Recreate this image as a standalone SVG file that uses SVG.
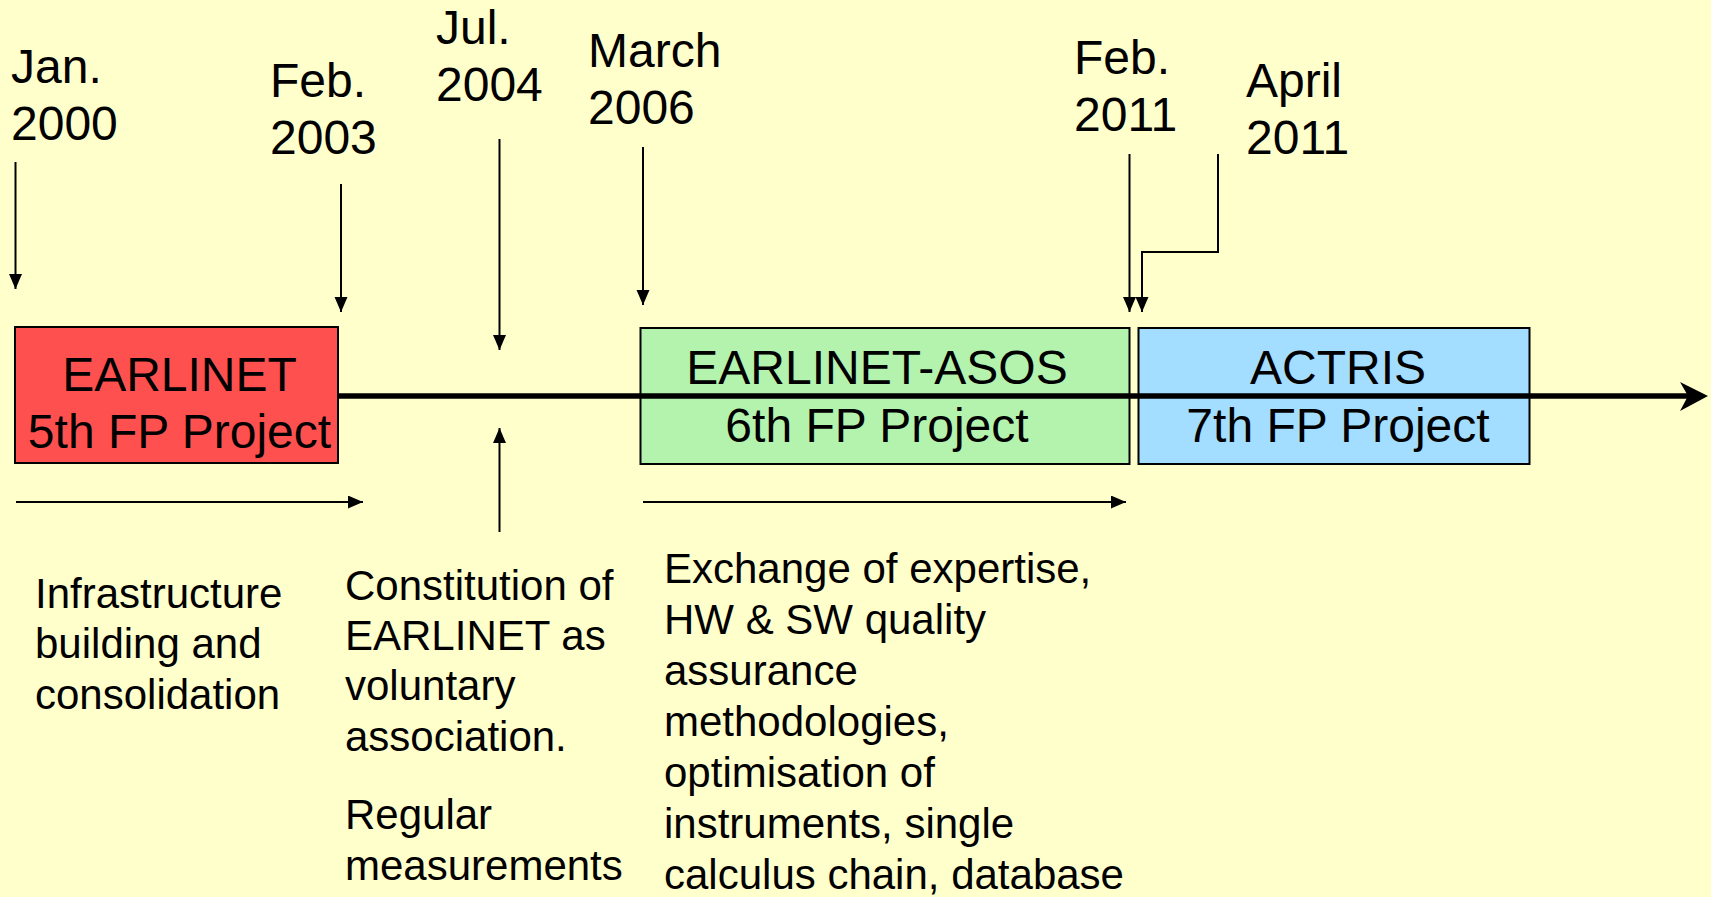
<svg xmlns="http://www.w3.org/2000/svg" width="1711" height="897" viewBox="0 0 1711 897">
<defs>
<style>
text{font-family:"Liberation Sans",Arial,sans-serif;fill:#000}
.date{font-size:48px}
.box{font-size:48px;text-anchor:middle}
.desc{font-size:42px}
.arr{stroke:#000;stroke-width:2;fill:none}
.bx{stroke:#000;stroke-width:2}
</style>
<marker id="ah" markerUnits="userSpaceOnUse" markerWidth="16" markerHeight="14" refX="15" refY="6.5" orient="auto">
<path d="M0,0 L15,6.5 L0,13 z" fill="#000"/>
</marker>
</defs>
<rect width="1711" height="897" fill="#FFFFCC"/>
<g id="box-earlinet">
<rect class="bx" x="15" y="327" width="323" height="136" fill="#FF5050"/>
<text class="box" x="179.5" y="391">EARLINET</text>
<text class="box" x="179.5" y="448">5th FP Project</text>
</g>
<g id="box-asos">
<rect class="bx" x="640.5" y="328" width="489" height="136" fill="#B3F3AE"/>
<text class="box" x="877" y="384">EARLINET-ASOS</text>
<text class="box" x="877" y="442">6th FP Project</text>
</g>
<g id="box-actris">
<rect class="bx" x="1138.5" y="328" width="391" height="136" fill="#A3DDFF"/>
<text class="box" x="1338" y="384">ACTRIS</text>
<text class="box" x="1338" y="442">7th FP Project</text>
</g>
<g id="timeline">
<line x1="338" y1="396" x2="1690" y2="396" stroke="#000" stroke-width="5.5"/>
<path d="M1708,396 L1680,382 L1688,396 L1680,411 z" fill="#000"/>
</g>
<g id="date-jan2000"><text class="date" x="11" y="83">Jan.</text><text class="date" x="11" y="140">2000</text></g>
<g id="date-feb2003"><text class="date" x="270" y="97">Feb.</text><text class="date" x="270" y="154">2003</text></g>
<g id="date-jul2004"><text class="date" x="436" y="44">Jul.</text><text class="date" x="436" y="101">2004</text></g>
<g id="date-mar2006"><text class="date" x="588" y="67">March</text><text class="date" x="588" y="124">2006</text></g>
<g id="date-feb2011"><text class="date" x="1074" y="74">Feb.</text><text class="date" x="1074" y="131">2011</text></g>
<g id="date-apr2011"><text class="date" x="1246" y="97">April</text><text class="date" x="1246" y="154">2011</text></g>
<g id="desc-1">
<text class="desc" x="35" y="608">Infrastructure</text>
<text class="desc" x="35" y="658">building and</text>
<text class="desc" x="35" y="709">consolidation</text>
</g>
<g id="desc-2">
<text class="desc" x="345" y="600">Constitution of</text>
<text class="desc" x="345" y="650">EARLINET as</text>
<text class="desc" x="345" y="700">voluntary</text>
<text class="desc" x="345" y="751">association.</text>
<text class="desc" x="345" y="829">Regular</text>
<text class="desc" x="345" y="880">measurements</text>
</g>
<g id="desc-3">
<text class="desc" x="664" y="583">Exchange of expertise,</text>
<text class="desc" x="664" y="634">HW &amp; SW quality</text>
<text class="desc" x="664" y="685">assurance</text>
<text class="desc" x="664" y="736">methodologies,</text>
<text class="desc" x="664" y="787">optimisation of</text>
<text class="desc" x="664" y="838">instruments, single</text>
<text class="desc" x="664" y="889">calculus chain, database</text>
</g>
<g id="connectors">
<line class="arr" x1="15.5" y1="162" x2="15.5" y2="289" marker-end="url(#ah)"/>
<line class="arr" x1="341" y1="184" x2="341" y2="312" marker-end="url(#ah)"/>
<line class="arr" x1="499.5" y1="139" x2="499.5" y2="350" marker-end="url(#ah)"/>
<line class="arr" x1="499.5" y1="532" x2="499.5" y2="428" marker-end="url(#ah)"/>
<line class="arr" x1="643" y1="147" x2="643" y2="305" marker-end="url(#ah)"/>
<line class="arr" x1="1129.5" y1="154" x2="1129.5" y2="312" marker-end="url(#ah)"/>
<polyline class="arr" points="1218,154 1218,252 1142,252 1142,312" marker-end="url(#ah)"/>
<line class="arr" x1="16" y1="502" x2="363" y2="502" marker-end="url(#ah)"/>
<line class="arr" x1="643" y1="502" x2="1126" y2="502" marker-end="url(#ah)"/>
</g>
</svg>
